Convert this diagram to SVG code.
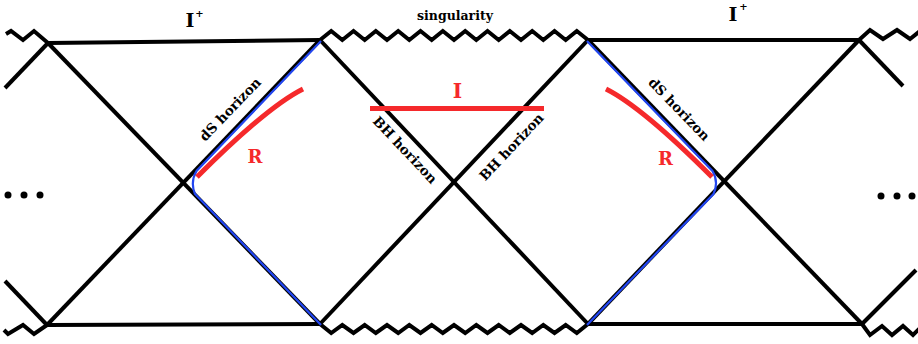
<svg xmlns="http://www.w3.org/2000/svg" width="918" height="344" viewBox="0 0 918 344">
<style>
.k{fill:none;stroke:#000;stroke-width:4;stroke-linejoin:miter;stroke-miterlimit:6}
.b{fill:none;stroke:#2246f0;stroke-width:2.2}
.r{fill:none;stroke:#f5292b;stroke-width:5}
.t{font-family:"DejaVu Serif","Liberation Serif",serif;font-weight:bold;fill:#000;text-anchor:middle}
.rt{font-family:"DejaVu Serif","Liberation Serif",serif;font-weight:bold;fill:#f5292b;text-anchor:middle}
</style>
<rect width="918" height="344" fill="#fff"/>
<g id="lines">
<line class="k" x1="48" y1="43" x2="320" y2="40"/>
<line class="k" x1="588" y1="40" x2="859" y2="40"/>
<line class="k" x1="47" y1="325" x2="320" y2="324"/>
<line class="k" x1="588" y1="324" x2="862" y2="324"/>
<line class="k" x1="48" y1="43" x2="320" y2="324"/>
<line class="k" x1="320" y1="40" x2="47" y2="325"/>
<line class="k" x1="320" y1="40" x2="588" y2="324"/>
<line class="k" x1="588" y1="40" x2="320" y2="324"/>
<line class="k" x1="588" y1="40" x2="862" y2="324"/>
<line class="k" x1="859" y1="40" x2="588" y2="324"/>
<line class="k" x1="48" y1="43" x2="5" y2="88"/>
<line class="k" x1="47" y1="325" x2="5" y2="281"/>
<line class="k" x1="859" y1="40" x2="903" y2="86"/>
<line class="k" x1="862" y1="324" x2="916" y2="270"/>
</g>
<g id="singularities">
<path class="k" d="M6,34 L11,31 L23,40 L34,31 L48,43"/>
<path class="k" d="M320,40 L331.2,31 L342.3,40 L353.5,31 L364.7,40 L375.8,31 L387,40 L398.2,31 L409.3,40 L420.5,31 L431.7,40 L442.8,31 L454,40 L465.2,31 L476.3,40 L487.5,31 L498.7,40 L509.8,31 L521,40 L532.2,31 L543.3,40 L554.5,31 L565.7,40 L576.8,31 L588,40"/>
<path class="k" d="M859,40 L870,30 L883,39 L897,30 L910,39 L920,31"/>
<path class="k" d="M4,330 L8,334 L23,325 L34,334 L47,325"/>
<path class="k" d="M320,324 L331.2,333 L342.3,325 L353.5,333 L364.7,325 L375.8,333 L387,325 L398.2,333 L409.3,325 L420.5,333 L431.7,325 L442.8,333 L454,325 L465.2,333 L476.3,325 L487.5,333 L498.7,325 L509.8,333 L521,325 L532.2,333 L543.3,325 L554.5,333 L565.7,325 L576.8,333 L588,324"/>
<path class="k" d="M862,324 L870,335 L882,326 L892,335 L903,326 L913,335 L920,328"/>
</g>
<g id="horizons-blue">
<path class="b" d="M321,41 L196.5,171 Q190,182 195,194 L321,325"/>
<path class="b" d="M587,41 L712.5,171 Q719,182 713.5,194 L587,325"/>
</g>
<g id="regions-red">
<path class="r" d="M303,89 Q267,107 197,177"/>
<path class="r" d="M606,89 Q642,107 712,177"/>
<line class="r" x1="370" y1="108.5" x2="544" y2="108.5"/>
</g>
<g id="labels">
<text class="t" x="190" y="27" font-size="19">I</text>
<text class="t" x="199.5" y="17" font-size="10">+</text>
<text class="t" x="733" y="21" font-size="19">I</text>
<text class="t" x="743.5" y="10" font-size="10">+</text>
<text class="t" x="455" y="20" font-size="12.5">singularity</text>
<text class="t" font-size="13.5" transform="translate(233.5,112.5) rotate(-46.2)">dS horizon</text>
<text class="t" font-size="13.5" transform="translate(675.8,112.5) rotate(46)">dS horizon</text>
<text class="t" font-size="13.5" transform="translate(401.7,153.1) rotate(46.7)">BH horizon</text>
<text class="t" font-size="13.5" transform="translate(514.8,150.1) rotate(-46.7)">BH horizon</text>
<text class="rt" x="255" y="163" font-size="18">R</text>
<text class="rt" x="665.5" y="165" font-size="18">R</text>
<text class="rt" x="457.5" y="98" font-size="20">I</text>
</g>
<g id="dots">
<circle cx="8" cy="195" r="3.5"/>
<circle cx="24" cy="195" r="3.5"/>
<circle cx="40" cy="195" r="3.5"/>
<circle cx="881" cy="196" r="3.5"/>
<circle cx="897" cy="196" r="3.5"/>
<circle cx="912" cy="196" r="3.5"/>
</g>
</svg>
